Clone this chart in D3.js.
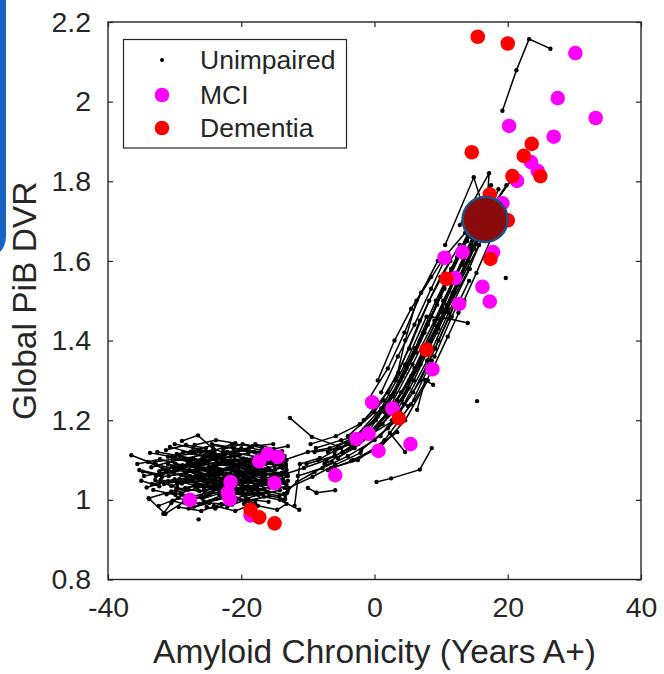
<!DOCTYPE html>
<html>
<head>
<meta charset="utf-8">
<script src="https://cdn.jsdelivr.net/npm/d3@7"></script>
<style>
  html, body { margin: 0; padding: 0; background: #fff; }
  svg { display: block; }
  text { font-family: "Liberation Sans", Arial, Helvetica, sans-serif; fill: #262626; }
</style>
</head>
<body>
<svg id="chart" width="664" height="674"></svg>
<script>
// Axis ticks
const xTicks = [-40, -20, 0, 20, 40];
const yTicks = [0.8, 1, 1.2, 1.4, 1.6, 1.8, 2, 2.2];

// Unimpaired longitudinal tracks: [years A+, global PiB DVR] per visit
const clusterTracks = [
  [[-36.5,1.112],[-32.8,1.088],[-30.1,1.079]],
  [[-34.8,1.071],[-31.9,1.058],[-28.4,1.066]],
  [[-34.2,1.031],[-31.0,1.047],[-27.6,1.052]],
  [[-33.9,1.004],[-30.5,1.021],[-27.0,1.035]],
  [[-33.0,1.095],[-29.8,1.103],[-26.1,1.088]],
  [[-32.6,1.120],[-29.2,1.110],[-25.4,1.097]],
  [[-32.1,1.050],[-28.9,1.041],[-25.7,1.060],[-22.4,1.055]],
  [[-31.4,0.965],[-28.6,0.995],[-25.3,1.010]],
  [[-31.8,1.078],[-28.1,1.089],[-24.7,1.073],[-21.5,1.082]],
  [[-31.2,1.014],[-27.9,1.026],[-24.6,1.018]],
  [[-30.7,1.133],[-27.5,1.118],[-24.0,1.125]],
  [[-30.9,1.060],[-27.3,1.072],[-23.9,1.061]],
  [[-30.3,0.998],[-27.1,0.983],[-23.8,1.002]],
  [[-29.9,1.091],[-26.5,1.060],[-23.2,1.070]],
  [[-28.9,1.148],[-26.5,1.162],[-24.2,1.128],[-21.0,1.110]],
  [[-29.6,1.040],[-26.0,1.049],[-22.8,1.035],[-19.5,1.044]],
  [[-29.1,1.015],[-25.8,1.003],[-22.5,1.020]],
  [[-28.7,1.103],[-25.1,1.115],[-21.9,1.098],[-18.7,1.101]],
  [[-28.2,1.068],[-24.9,1.080],[-21.6,1.066]],
  [[-27.9,0.978],[-24.8,0.992],[-21.4,0.988]],
  [[-27.6,1.121],[-24.3,1.137],[-21.1,1.129]],
  [[-27.3,1.047],[-24.1,1.030],[-20.6,1.048],[-17.2,1.040]],
  [[-26.9,1.083],[-23.7,1.095],[-20.3,1.087]],
  [[-25.2,0.982],[-23.9,0.978],[-20.8,0.998]],
  [[-26.2,1.058],[-22.9,1.047],[-19.8,1.062],[-16.5,1.055]],
  [[-25.8,1.106],[-22.6,1.118],[-19.2,1.102]],
  [[-25.5,1.022],[-22.3,1.037],[-19.0,1.025],[-15.7,1.031]],
  [[-25.1,1.074],[-21.8,1.060],[-18.6,1.073]],
  [[-24.7,0.996],[-21.5,1.008],[-18.3,0.990]],
  [[-24.4,1.140],[-21.2,1.131],[-18.0,1.120],[-14.8,1.112]],
  [[-24.0,1.052],[-20.7,1.066],[-17.5,1.078]],
  [[-23.6,1.090],[-20.4,1.080],[-17.0,1.093],[-13.9,1.085]],
  [[-23.3,1.012],[-20.1,1.000],[-16.8,1.015]],
  [[-22.9,1.068],[-19.6,1.057],[-16.3,1.064],[-13.4,1.070]],
  [[-22.5,1.113],[-19.3,1.125],[-16.1,1.117]],
  [[-22.1,0.983],[-19.0,1.002],[-15.9,0.995]],
  [[-21.8,1.043],[-18.5,1.030],[-15.4,1.045],[-13.2,1.038]],
  [[-21.3,1.098],[-18.1,1.086],[-15.0,1.100]],
  [[-20.9,1.060],[-17.7,1.072],[-14.6,1.060],[-13.1,1.066]],
  [[-20.5,1.020],[-17.4,1.012],[-14.2,1.024]],
  [[-20.0,1.130],[-17.0,1.110],[-13.9,1.122]],
  [[-19.6,0.990],[-16.6,1.008],[-13.6,0.998]],
  [[-19.1,1.080],[-16.2,1.092],[-13.3,1.083]],
  [[-18.7,1.050],[-15.8,1.036],[-13.0,1.048]],
  [[-18.2,1.105],[-15.3,1.098],[-13.5,1.110]],
  [[-35.0,1.048],[-32.3,1.034]],
  [[-33.5,1.082],[-30.2,1.098],[-27.2,1.104]],
  [[-32.4,0.985],[-29.4,1.005]],
  [[-30.1,1.070],[-26.8,1.093],[-23.5,1.104],[-20.2,1.113]],
  [[-29.4,0.982],[-26.0,0.972],[-23.0,0.990]],
  [[-28.4,1.030],[-25.0,1.042],[-21.7,1.030],[-18.4,1.022]],
  [[-27.0,1.138],[-23.8,1.150],[-20.9,1.142]],
  [[-26.0,1.010],[-22.7,1.022],[-19.4,1.010],[-16.0,1.020]],
  [[-24.9,1.097],[-21.6,1.108],[-18.9,1.118],[-15.6,1.126]],
  [[-23.8,1.035],[-20.6,1.026],[-17.3,1.041]],
  [[-22.7,1.127],[-19.8,1.140],[-16.9,1.131]],
  [[-21.2,1.075],[-18.0,1.063],[-14.9,1.077],[-13.3,1.090]],
  [[-17.9,1.140],[-15.1,1.128],[-13.0,1.135]],
  [[-17.5,0.985],[-14.6,0.975],[-13.2,0.990]],
  [[-16.9,1.058],[-14.4,1.052],[-13.0,1.060]],
  [[-31.0,1.090],[-27.8,1.075],[-24.4,1.084],[-21.0,1.072]],
  [[-30.5,1.035],[-27.2,1.055],[-23.9,1.045],[-20.5,1.058]],
  [[-29.0,1.062],[-25.7,1.048],[-22.2,1.077],[-19.0,1.066]],
  [[-28.0,1.095],[-24.6,1.110],[-21.3,1.092],[-17.9,1.080]],
  [[-27.4,1.008],[-24.2,1.022],[-20.8,1.038],[-17.6,1.030]],
  [[-26.6,1.076],[-23.4,1.064],[-20.0,1.051],[-16.6,1.069]],
  [[-25.3,1.040],[-22.0,1.056],[-18.8,1.046],[-15.5,1.058]],
  [[-24.2,1.086],[-21.0,1.101],[-17.8,1.090],[-14.5,1.095]],
  [[-23.1,1.052],[-19.9,1.040],[-16.7,1.052],[-13.6,1.044]],
  [[-22.0,1.098],[-18.9,1.082],[-15.7,1.075],[-13.8,1.080]],
  [[-32.8,1.060],[-29.6,1.074],[-26.3,1.067]],
  [[-33.4,1.040],[-30.0,1.052],[-26.7,1.041],[-23.5,1.026]],
  [[-20.3,1.090],[-17.1,1.103],[-14.0,1.095]],
  [[-19.4,1.030],[-16.4,1.044],[-13.5,1.030]],
  [[-26.9,1.100],[-23.6,1.078],[-20.1,1.068]],
  [[-29.7,1.115],[-26.4,1.125],[-23.1,1.112]],
  [[-33.8,1.002],[-31.4,0.965]],
  [[-31.7,0.965],[-30.5,0.992],[-28.8,1.013]],
  [[-35.6,1.090],[-32.2,1.102],[-28.8,1.087],[-25.5,1.094]],
  [[-34.6,1.060],[-31.3,1.070],[-27.9,1.058],[-24.5,1.066],[-21.2,1.060]],
  [[-33.7,1.118],[-30.4,1.108],[-27.0,1.117],[-23.7,1.100]],
  [[-33.2,1.025],[-29.9,1.013],[-26.6,1.030],[-23.3,1.041],[-20.0,1.036]],
  [[-32.3,1.072],[-29.0,1.085],[-25.6,1.079],[-22.3,1.090],[-19.1,1.078]],
  [[-31.6,1.040],[-28.3,1.050],[-24.9,1.061],[-21.6,1.049],[-18.2,1.057]],
  [[-31.0,1.108],[-27.7,1.098],[-24.3,1.104],[-21.0,1.118],[-17.7,1.108]],
  [[-30.4,1.083],[-27.0,1.070],[-23.7,1.080],[-20.4,1.073],[-17.1,1.084]],
  [[-29.8,1.025],[-26.5,1.037],[-23.2,1.026],[-19.9,1.016],[-16.6,1.028]],
  [[-29.3,1.052],[-26.0,1.064],[-22.6,1.054],[-19.3,1.071],[-16.0,1.080]],
  [[-28.7,1.120],[-25.4,1.108],[-22.1,1.120],[-18.8,1.131],[-15.6,1.120]],
  [[-28.1,1.000],[-24.8,1.014],[-21.5,1.026],[-18.2,1.015]],
  [[-27.5,1.092],[-24.2,1.072],[-20.9,1.083],[-17.6,1.095],[-14.3,1.088]],
  [[-26.8,1.044],[-23.5,1.058],[-20.2,1.045],[-16.9,1.038],[-13.7,1.050]],
  [[-26.1,1.120],[-22.8,1.104],[-19.5,1.093],[-16.2,1.105]],
  [[-25.6,0.995],[-22.4,1.006],[-19.1,0.998],[-15.8,1.010],[-13.4,1.002]],
  [[-25.0,1.066],[-21.7,1.078],[-18.4,1.067],[-15.1,1.062],[-13.2,1.075]],
  [[-24.3,1.030],[-21.0,1.016],[-17.7,1.034],[-14.4,1.040]],
  [[-23.7,1.110],[-20.4,1.124],[-17.1,1.118],[-13.9,1.106]],
  [[-23.0,1.075],[-19.7,1.088],[-16.4,1.077],[-13.3,1.060]],
  [[-22.4,1.040],[-19.1,1.052],[-15.8,1.043],[-13.0,1.025]],
  [[-21.6,1.090],[-18.3,1.070],[-15.0,1.085],[-13.6,1.096]],
  [[-20.8,1.004],[-17.5,1.020],[-14.3,1.010],[-13.1,1.018]],
  [[-34.0,1.095],[-30.8,1.072],[-27.5,1.085]],
  [[-32.9,1.050],[-29.6,1.030],[-26.3,1.022],[-23.0,1.035]],
  [[-30.0,1.140],[-27.2,1.130],[-24.0,1.118]],
  [[-29.5,1.005],[-26.3,0.990],[-23.1,1.010],[-19.8,1.022]],
  [[-27.7,1.060],[-24.4,1.050],[-21.1,1.040],[-17.8,1.050],[-14.6,1.045]],
  [[-26.3,1.085],[-23.0,1.096],[-19.7,1.104],[-16.4,1.090],[-13.2,1.100]],
  [[-24.6,1.120],[-21.4,1.140],[-18.3,1.135],[-15.2,1.140]],
  [[-22.8,1.020],[-19.5,1.032],[-16.3,1.022],[-13.4,1.012]],
  [[-19.8,1.062],[-16.8,1.072],[-13.9,1.068]],
  [[-31.3,1.125],[-28.3,1.138],[-25.3,1.130]],
  [[-35.3,1.075],[-32.0,1.063],[-28.7,1.078]],
  [[-28.9,1.045],[-25.6,1.030],[-22.3,1.044],[-19.0,1.035]],
  [[-24.1,0.985],[-20.9,0.972],[-17.9,0.992]]
];

// Tracks leaving the low-amyloid cluster
const transitionTracks = [
  [[-14.2,1.000],[-11.3,0.975]],
  [[-13.6,1.015],[-11.6,1.045],[-9.0,1.070],[-6.4,1.095]],
  [[-14.0,1.062],[-10.6,1.080],[-7.2,1.100],[-3.6,1.130]],
  [[-13.5,1.100],[-10.0,1.120],[-6.7,1.130],[-3.2,1.155]],
  [[-12.9,1.030],[-9.3,1.058],[-5.9,1.088],[-2.1,1.118]],
  [[-12.7,1.206],[-9.4,1.158],[-5.5,1.135]],
  [[-10.0,1.030],[-8.7,1.018],[-5.9,1.024]],
  [[-12.0,0.985],[-11.2,1.090],[-8.2,1.105]],
  [[-8.8,1.130],[-5.0,1.150],[-1.4,1.165]],
  [[-7.0,1.075],[-3.5,1.098],[0.2,1.130],[3.4,1.170]]
];

// Tracks along the rising part of the curve
const bandTracks = [
  [[-8.5,1.10],[-4.2,1.14],[0.5,1.21],[4.2,1.31]],
  [[-6.0,1.12],[-1.5,1.17],[2.5,1.26],[6.0,1.38]],
  [[-3.8,1.14],[0.2,1.20],[3.9,1.30],[7.3,1.42],[10.5,1.53]],
  [[-1.0,1.17],[2.8,1.26],[6.2,1.37],[9.4,1.49]],
  [[1.5,1.22],[4.8,1.33],[8.0,1.44],[11.2,1.56],[14.3,1.67]],
  [[3.0,1.27],[6.1,1.38],[9.2,1.50],[12.4,1.61],[15.6,1.72]],
  [[4.5,1.32],[7.5,1.42],[10.8,1.55],[13.9,1.65],[16.9,1.76]],
  [[6.8,1.40],[9.9,1.51],[13.0,1.62],[16.1,1.73]],
  [[8.5,1.46],[11.5,1.58],[14.6,1.69],[17.5,1.79]],
  [[-10.2,1.09],[-6.0,1.11],[-1.8,1.15],[2.0,1.22]],
  [[-7.5,1.09],[-3.0,1.13],[1.2,1.19],[5.1,1.28]],
  [[-4.8,1.12],[-0.5,1.17],[3.4,1.25],[6.9,1.34]],
  [[-2.4,1.14],[1.8,1.21],[5.5,1.31],[8.8,1.41],[12.0,1.52]],
  [[0.3,1.18],[4.0,1.27],[7.6,1.38],[10.9,1.49],[14.1,1.60]],
  [[2.2,1.23],[5.7,1.34],[9.0,1.45],[12.3,1.57],[15.4,1.68]],
  [[5.2,1.30],[8.4,1.40],[11.7,1.52],[14.8,1.63],[17.8,1.74]],
  [[7.9,1.37],[11.0,1.48],[14.2,1.58],[17.2,1.70]],
  [[9.6,1.43],[12.7,1.55],[15.8,1.66],[18.6,1.78]],
  [[-9.6,1.14],[-5.8,1.16],[-2.2,1.19],[1.4,1.25]],
  [[-11.5,1.06],[-7.8,1.08],[-4.0,1.11],[0.0,1.15],[4.0,1.21]],
  [[-3.2,1.10],[0.8,1.13],[4.6,1.20],[8.0,1.30]],
  [[3.8,1.22],[6.9,1.30],[9.6,1.40],[12.2,1.50]],
  [[9.0,1.36],[11.6,1.46],[14.2,1.55]],
  [[12.6,1.47],[15.3,1.57],[17.6,1.66]],
  [[3.2,1.30],[4.6,1.40],[6.3,1.50],[10.5,1.61],[13.6,1.67]],
  [[10.6,1.64],[14.9,1.81],[16.4,1.73]],
  [[12.8,1.69],[17.2,1.82],[16.8,1.72]],
  [[14.5,1.66],[17.0,1.72],[20.4,1.80]],
  [[15.0,1.63],[17.8,1.74],[19.8,1.79]],
  [[8.3,1.46],[11.2,1.455],[14.0,1.444]],
  [[6.4,1.226],[7.6,1.301],[8.8,1.289]],
  [[2.3,1.168],[4.6,1.120]],
  [[0.3,1.045],[2.5,1.054],[6.8,1.076],[8.6,1.130]],
  [[-5.5,1.105],[-1.2,1.155],[2.9,1.22],[6.5,1.33],[9.8,1.45]],
  [[-2.0,1.125],[2.0,1.18],[5.8,1.27],[9.1,1.38],[12.3,1.50]],
  [[0.9,1.16],[4.4,1.24],[7.9,1.35],[11.1,1.47],[14.3,1.58]],
  [[2.6,1.20],[5.9,1.30],[9.3,1.42],[12.6,1.54],[15.7,1.64]],
  [[4.1,1.25],[7.2,1.36],[10.3,1.47],[13.5,1.59],[16.5,1.69]],
  [[-7.0,1.12],[-2.8,1.16],[1.0,1.23],[4.6,1.34],[7.8,1.46]],
  [[-4.0,1.16],[0.0,1.22],[3.6,1.32],[6.8,1.45],[9.9,1.56],[12.8,1.64]],
  [[-1.6,1.20],[2.0,1.27],[5.2,1.38],[8.2,1.50],[11.4,1.60]],
  [[6.0,1.33],[9.0,1.44],[12.0,1.56],[15.0,1.67],[17.6,1.75]],
  [[7.3,1.38],[10.2,1.48],[13.3,1.60],[16.3,1.70]],
  [[10.3,1.50],[13.1,1.59],[16.2,1.68]],
  [[-9.0,1.12],[-5.0,1.13],[-1.0,1.16],[3.0,1.20]],
  [[-6.5,1.08],[-2.5,1.10],[1.5,1.15],[5.5,1.24],[8.6,1.35]],
  [[1.0,1.27],[3.5,1.36],[6.0,1.44],[8.5,1.53],[11.0,1.62]],
  [[11.8,1.55],[14.5,1.64],[17.3,1.72]],
  [[-1.0,1.25],[2.0,1.33],[4.5,1.42],[7.0,1.52],[9.5,1.60]],
  [[0.5,1.30],[3.0,1.40],[5.5,1.48],[8.5,1.56]],
  [[6.0,1.25],[8.5,1.32],[11.0,1.41],[13.5,1.50]],
  [[19.2,1.977],[21.3,2.079],[23.2,2.157],[26.4,2.133]]
];

// Single unimpaired visits
const lonePoints = [[15.4,1.248],[19.7,1.557],[5.0,1.236],[-26.4,0.951],[-8.7,1.018]];

// Last visits of impaired participants
const mciPoints = [
  [30.15,2.122],[27.5,2.009],[33.2,1.959],[20.2,1.939],[26.9,1.912],[23.5,1.848],
  [24.5,1.826],[21.4,1.801],[19.2,1.745],[17.8,1.622],[10.5,1.608],[13.2,1.622],
  [12.1,1.557],[16.2,1.535],[12.7,1.492],[17.3,1.498],[8.7,1.328],[-0.35,1.245],
  [2.7,1.229],[-0.9,1.166],[-2.7,1.153],[0.6,1.123],[5.4,1.140],[-5.9,1.062],
  [-17.3,1.097],[-16.0,1.115],[-14.5,1.108],[-15.0,1.042],[-21.6,1.045],
  [-22.0,1.018],[-21.7,1.002],[-27.7,1.000],[-18.6,0.961]
];
const dementiaPoints = [
  [15.5,2.163],[20.0,2.146],[14.6,1.873],[23.6,1.894],[22.4,1.864],[20.7,1.813],
  [24.9,1.813],[17.3,1.767],[20.0,1.702],[17.4,1.605],[10.8,1.555],[7.8,1.377],
  [3.65,1.205],[-18.6,0.975],[-17.3,0.956],[-15.0,0.941]
];

// Highlighted group point
const highlight = [16.6, 1.704];

const legendItems = ["Unimpaired", "MCI", "Dementia"];

const svg = d3.select("#chart");
const margin = { left: 108, right: 641, top: 22, bottom: 579.5 };
const x = d3.scaleLinear().domain([-40, 40]).range([margin.left, margin.right]);
const y = d3.scaleLinear().domain([0.8, 2.2]).range([margin.bottom, margin.top]);
const ink = "#262626";

// Side accent strip
svg.append("path")
  .attr("d", "M0,0 L6,0 L6,236 Q6,246 0,252 Z")
  .attr("fill", "#1763c4");

const plot = svg.append("g");
plot.append("rect")
  .attr("x", margin.left).attr("y", margin.top)
  .attr("width", margin.right - margin.left).attr("height", margin.bottom - margin.top)
  .attr("fill", "#fff");

const line = d3.line().x(d => x(d[0])).y(d => y(d[1]));
const allTracks = clusterTracks.concat(transitionTracks, bandTracks);

plot.append("g").selectAll("path").data(allTracks).join("path")
  .attr("d", line).attr("fill", "none").attr("stroke", "#000").attr("stroke-width", 1.5);

const visits = allTracks.flat().concat(lonePoints);
plot.append("g").selectAll("circle").data(visits).join("circle")
  .attr("cx", d => x(d[0])).attr("cy", d => y(d[1])).attr("r", 2.2).attr("fill", "#000");

plot.append("g").selectAll("circle").data(mciPoints).join("circle")
  .attr("cx", d => x(d[0])).attr("cy", d => y(d[1])).attr("r", 7.3).attr("fill", "#ff00ff");

plot.append("g").selectAll("circle").data(dementiaPoints).join("circle")
  .attr("cx", d => x(d[0])).attr("cy", d => y(d[1])).attr("r", 7.3).attr("fill", "#ff0000");

plot.append("circle")
  .attr("cx", x(highlight[0])).attr("cy", y(highlight[1])).attr("r", 22.5)
  .attr("fill", "#8b0a0a").attr("stroke", "#1b4f86").attr("stroke-width", 2.5);

// Axes: box with inward ticks on all four sides
const fmt = d => String(d);
const styleAxis = g => {
  g.select(".domain").remove();
  g.selectAll(".tick line").attr("stroke", ink).attr("stroke-width", 1.2);
  g.selectAll(".tick text").attr("fill", ink).style("font-size", "28.5px")
    .style("font-family", "'Liberation Sans', Arial, sans-serif");
};
svg.append("g").attr("transform", `translate(0,${margin.bottom})`)
  .call(d3.axisBottom(x).tickValues(xTicks).tickFormat(fmt).tickSizeInner(-5).tickPadding(17))
  .call(styleAxis);
svg.append("g").attr("transform", `translate(0,${margin.top})`)
  .call(d3.axisTop(x).tickValues(xTicks).tickFormat("").tickSizeInner(-5))
  .call(styleAxis);
svg.append("g").attr("transform", `translate(${margin.left},0)`)
  .call(d3.axisLeft(y).tickValues(yTicks).tickFormat(fmt).tickSizeInner(-5).tickPadding(17))
  .call(styleAxis);
svg.append("g").attr("transform", `translate(${margin.right},0)`)
  .call(d3.axisRight(y).tickValues(yTicks).tickFormat("").tickSizeInner(-5))
  .call(styleAxis);

svg.append("rect")
  .attr("x", margin.left).attr("y", margin.top)
  .attr("width", margin.right - margin.left).attr("height", margin.bottom - margin.top)
  .attr("fill", "none").attr("stroke", ink).attr("stroke-width", 1.4);

// Axis titles
svg.append("text")
  .attr("x", (margin.left + margin.right) / 2).attr("y", 663)
  .attr("text-anchor", "middle").style("font-size", "33.5px")
  .text("Amyloid Chronicity (Years A+)");
svg.append("text")
  .attr("transform", `translate(36,${(margin.top + margin.bottom) / 2}) rotate(-90)`)
  .attr("text-anchor", "middle").style("font-size", "33.5px")
  .text("Global PiB DVR");

// Legend
const lg = svg.append("g");
lg.append("rect").attr("x", 123.5).attr("y", 39.5).attr("width", 223).attr("height", 108.5)
  .attr("fill", "#fff").attr("stroke", ink).attr("stroke-width", 1.2);
const rowY = [60, 95, 128];
lg.append("circle").attr("cx", 162).attr("cy", rowY[0]).attr("r", 2).attr("fill", "#000");
lg.append("circle").attr("cx", 162).attr("cy", rowY[1]).attr("r", 7.3).attr("fill", "#ff00ff");
lg.append("circle").attr("cx", 162).attr("cy", rowY[2]).attr("r", 7.3).attr("fill", "#ff0000");
lg.selectAll("text").data(legendItems).join("text")
  .attr("x", 200).attr("y", (d, i) => rowY[i] + 9)
  .style("font-size", "26.5px")
  .text(d => d);
</script>
</body>
</html>
